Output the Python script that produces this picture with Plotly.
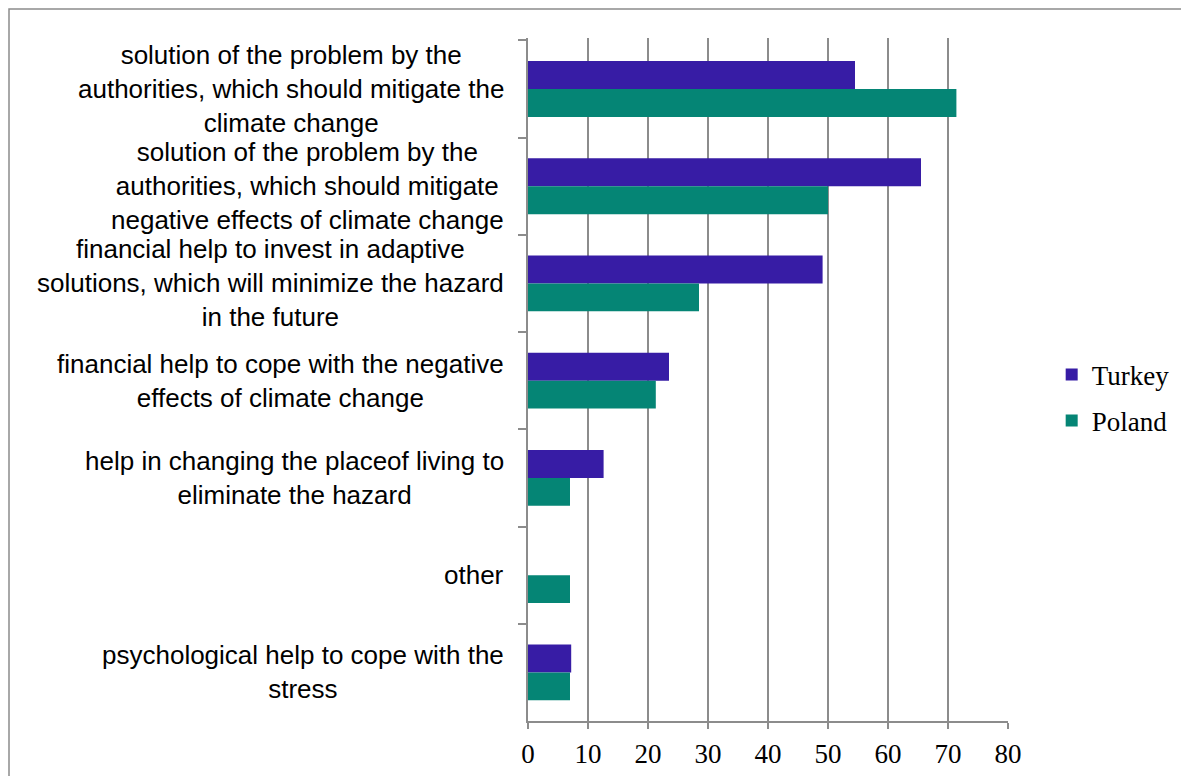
import plotly.graph_objects as go

categories = [
    "solution of the problem by the<br>authorities, which should mitigate the<br>climate change",
    "solution of the problem by the<br>authorities, which should mitigate<br>negative effects of climate change",
    "financial help to invest in adaptive<br>solutions, which will minimize the hazard<br>in the future",
    "financial help to cope with the negative<br>effects of climate change",
    "help in changing the placeof living to<br>eliminate the hazard",
    "other",
    "psychological help to cope with the<br>stress",
]
turkey = [54.5, 65.5, 49.1, 23.5, 12.6, 0, 7.2]
poland = [71.4, 50.0, 28.5, 21.3, 7.0, 7.0, 7.0]

serif = "'Liberation Serif', serif"
sans = "Arial, 'Liberation Sans', sans-serif"

W, H = 1181, 768
L, T, PW, PH = 520, 30, 480, 683

fig = go.Figure()
fig.add_trace(go.Bar(y=categories, x=turkey, name="Turkey", orientation="h",
                     marker=dict(color="#371ca5", line=dict(width=0)),
                     legendgroup="t"))
fig.add_trace(go.Bar(y=categories, x=poland, name="Poland", orientation="h",
                     marker=dict(color="#058575", line=dict(width=0)),
                     legendgroup="p"))

# centred multi-line category labels
for c in categories:
    fig.add_annotation(x=-0.046, xref="paper", y=c, yref="y", text=c,
                       showarrow=False, xanchor="right", yanchor="middle",
                       align="center", font=dict(family=sans, size=26, color="#000"))

fig.update_xaxes(range=[0, 80], dtick=10, showgrid=True, gridcolor="#8c8c8c",
                 gridwidth=1.5, showline=True, linecolor="#8c8c8c", linewidth=1.5,
                 ticks="outside", ticklen=6, tickcolor="#8c8c8c", tickwidth=1.5,
                 ticklabelstandoff=2, automargin=False,
                 tickfont=dict(family=serif, size=27, color="#000"), zeroline=False)
fig.update_yaxes(autorange="reversed", showticklabels=False, showline=True,
                 linecolor="#8c8c8c", linewidth=1.5, ticks="outside",
                 tickson="boundaries", ticklen=8, tickcolor="#8c8c8c", tickwidth=1.5,
                 showgrid=False, automargin=False)

# outer frame
fig.add_shape(type="rect", xref="paper", yref="paper",
              x0=(1 - L) / PW, x1=(W + 20 - L) / PW,
              y0=(T + PH - H - 40) / PH, y1=(T + PH - 1) / PH,
              line=dict(color="#8c8c8c", width=1.5), fillcolor="rgba(0,0,0,0)")

fig.update_layout(
    width=W, height=H,
    barmode="group", bargap=0.426, bargroupgap=0,
    plot_bgcolor="white", paper_bgcolor="white",
    margin=dict(l=L, r=W - L - PW, t=T, b=H - T - PH),
    legend=dict(x=1.091, y=0.473, xanchor="left", yanchor="middle",
                traceorder="grouped", tracegroupgap=8,
                font=dict(family=serif, size=27, color="#000")),
)

fig.write_html("out.html")
